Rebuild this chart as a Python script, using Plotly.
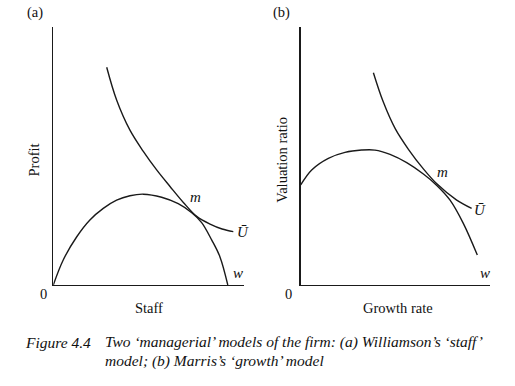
import plotly.graph_objects as go

W, H = 515, 386

# Panel (a): Williamson's staff model (abstract units, axis range 0-10)
a_w_x = [0.0, 0.52, 1.23, 1.92, 2.62, 3.32, 4.02, 4.72, 5.68, 6.55, 7.26, 7.78, 8.31, 8.74, 9.15]
a_w_y = [0.0, 0.97, 1.87, 2.52, 2.97, 3.29, 3.46, 3.52, 3.40, 3.15, 2.80, 2.42, 1.74, 1.09, 0.0]
a_u_x = [2.80, 3.32, 4.02, 4.72, 5.42, 6.12, 6.82, 7.52, 8.22, 8.85, 9.44]
a_u_y = [8.44, 7.17, 6.00, 5.18, 4.46, 3.82, 3.20, 2.66, 2.36, 2.17, 2.07]

# Panel (b): Marris's growth model
b_w_x = [0.0, 0.58, 1.46, 2.34, 3.22, 3.92, 4.72, 5.60, 6.48, 7.19, 7.89, 8.59, 9.33]
b_w_y = [3.88, 4.46, 4.91, 5.14, 5.23, 5.23, 5.06, 4.74, 4.30, 3.86, 3.29, 2.39, 1.16]
b_u_x = [3.84, 4.36, 5.00, 5.70, 6.48, 7.19, 8.24, 9.03]
b_u_y = [8.23, 7.10, 6.05, 5.25, 4.50, 3.92, 3.29, 2.97]

def px(x):
    return x / W

def py(y):
    return 1 - y / H

SERIF = "Liberation Serif, Times New Roman, serif"
LINE = dict(color="#1a1a1a", width=1.4, shape="spline", smoothing=1.0)

fig = go.Figure()
fig.add_trace(go.Scatter(x=a_w_x, y=a_w_y, mode="lines", line=LINE, xaxis="x", yaxis="y", hoverinfo="skip"))
fig.add_trace(go.Scatter(x=a_u_x, y=a_u_y, mode="lines", line=LINE, xaxis="x", yaxis="y", hoverinfo="skip"))
fig.add_trace(go.Scatter(x=b_w_x, y=b_w_y, mode="lines", line=LINE, xaxis="x2", yaxis="y2", hoverinfo="skip"))
fig.add_trace(go.Scatter(x=b_u_x, y=b_u_y, mode="lines", line=LINE, xaxis="x2", yaxis="y2", hoverinfo="skip"))

ax_common = dict(range=[0, 10], showgrid=False, zeroline=False, showticklabels=False,
                 ticks="", showline=True, linecolor="#1a1a1a", linewidth=1.3, fixedrange=True)

fig.update_layout(
    width=W, height=H,
    margin=dict(l=0, r=0, t=0, b=0),
    paper_bgcolor="white", plot_bgcolor="white",
    showlegend=False,
    xaxis=dict(domain=[px(53.3), px(244)], anchor="y", **ax_common),
    yaxis=dict(domain=[py(285), py(27)], anchor="x", **ax_common),
    xaxis2=dict(domain=[px(300.7), px(490)], anchor="y2", **ax_common),
    yaxis2=dict(domain=[py(285), py(27)], anchor="x2", **ax_common),
)

def ann(text, x, y, size=14.5, italic=False, angle=0, xanchor="center"):
    t = f"<i>{text}</i>" if italic else text
    fig.add_annotation(text=t, x=x, y=y, xref="paper", yref="paper", showarrow=False,
                       xanchor=xanchor, yanchor="middle", textangle=angle,
                       font=dict(family=SERIF, size=size, color="#111"))

# panel labels
ann("(a)", px(35), py(12.7))
ann("(b)", px(281.7), py(12.7))
# axis titles
ann("Profit", px(33.5), py(160), angle=-90)
ann("Staff", px(149), py(308))
ann("Valuation ratio", px(281.7), py(160), angle=-90)
ann("Growth rate", px(397.5), py(308))
# origins
ann("0", px(43.3), py(294))
ann("0", px(288.3), py(294))
# curve labels panel (a)
ann("m", px(195.5), py(196.7), size=15, italic=True)
ann("Ū", px(243), py(231.7), size=15, italic=True)
ann("w", px(238), py(273.3), size=15, italic=True)
# curve labels panel (b)
ann("m", px(442), py(171.7), size=15, italic=True)
ann("Ū", px(480), py(210), size=15, italic=True)
ann("w", px(485), py(273.3), size=15, italic=True)
# caption
ann("Figure 4.4", px(23), py(342), size=15.5, italic=True, xanchor="left")
ann("Two ‘managerial’ models of the firm: (a) Williamson’s ‘staff’", px(103), py(342), size=15.5, italic=True, xanchor="left")
ann("model; (b) Marris’s ‘growth’ model", px(103), py(361), size=15.5, italic=True, xanchor="left")

fig.write_html("out.html", config={"displayModeBar": False, "staticPlot": True},
               post_script="document.body.style.margin='0';document.body.style.overflow='hidden';")
